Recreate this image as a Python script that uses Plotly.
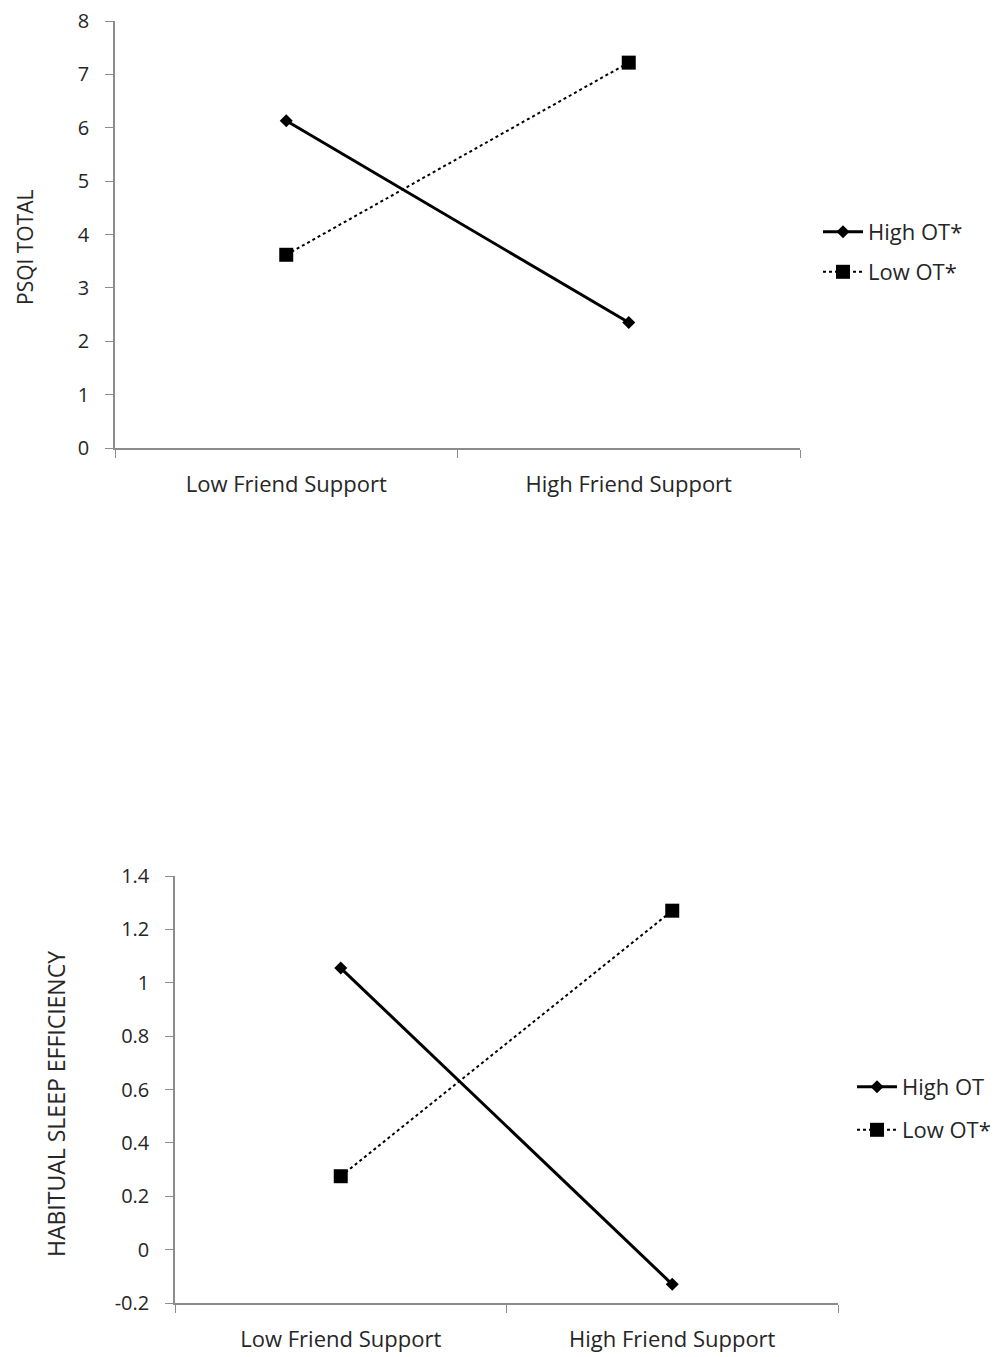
import plotly.graph_objects as go

categories = ["Low Friend Support", "High Friend Support"]

psqi_high_ot = [6.13, 2.35]
psqi_low_ot = [3.62, 7.22]

hse_high_ot = [1.055, -0.13]
hse_low_ot = [0.275, 1.27]

top_ticks = [0, 1, 2, 3, 4, 5, 6, 7, 8]
bottom_ticks = [-0.2, 0, 0.2, 0.4, 0.6, 0.8, 1, 1.2, 1.4]
bottom_ticktext = ["-0.2", "0", "0.2", "0.4", "0.6", "0.8", "1", "1.2", "1.4"]

FONT = "Open Sans"
TXT = "#262626"
AX = "#8c8c8c"

# page body has an 8px margin; figure fits inside the remaining window
OFF = 8
W, H = 1003 - OFF, 1357 - OFF
def px(x): return (x - OFF) / W
def py(y): return 1 - (y - OFF) / H

fig = go.Figure()

fig.add_trace(go.Scatter(x=categories, y=psqi_high_ot, name="High OT*", mode="lines+markers",
                         line=dict(color="black", width=3), marker=dict(symbol="diamond", size=10, color="black"),
                         xaxis="x", yaxis="y", legend="legend2"))
fig.add_trace(go.Scatter(x=categories, y=psqi_low_ot, name="Low OT*", mode="lines+markers",
                         line=dict(color="black", width=2, dash="dot"), marker=dict(symbol="square", size=14, color="black"),
                         xaxis="x", yaxis="y", legend="legend3"))
fig.add_trace(go.Scatter(x=categories, y=hse_high_ot, name="High OT", mode="lines+markers",
                         line=dict(color="black", width=3), marker=dict(symbol="diamond", size=10, color="black"),
                         xaxis="x2", yaxis="y2", legend="legend4"))
fig.add_trace(go.Scatter(x=categories, y=hse_low_ot, name="Low OT*", mode="lines+markers",
                         line=dict(color="black", width=2, dash="dot"), marker=dict(symbol="square", size=14, color="black"),
                         xaxis="x2", yaxis="y2", legend="legend5"))

xcommon = dict(type="category", range=[-0.5, 1.5], tickson="boundaries", ticks="outside", ticklen=8,
               tickcolor=AX, showline=True, linecolor=AX, linewidth=1.5, showgrid=False, zeroline=False,
               tickfont=dict(family=FONT, size=22, color=TXT), fixedrange=True, automargin=False,
               ticklabelstandoff=16, ticklabeloverflow="allow")
ycommon = dict(ticks="outside", ticklen=8, tickcolor=AX, showline=True, linecolor=AX, linewidth=1.5,
               showgrid=False, zeroline=False, tickfont=dict(family=FONT, size=20, color=TXT), fixedrange=True,
               automargin=False, ticklabelstandoff=12, ticklabeloverflow="allow")

def leg(x, y):
    return dict(x=px(x), y=py(y), xanchor="left", yanchor="middle", bgcolor="rgba(0,0,0,0)",
                font=dict(family=FONT, size=22, color=TXT), itemwidth=40, visible=True)

fig.update_layout(
    width=W, height=H, margin=dict(l=0, r=0, t=0, b=0),
    paper_bgcolor="white", plot_bgcolor="white",
    font=dict(family=FONT, color=TXT),
    showlegend=True,
    xaxis=dict(domain=[px(115), px(800)], anchor="y", **xcommon),
    yaxis=dict(domain=[py(448), py(21)], anchor="x", range=[0, 8], tickvals=top_ticks, **ycommon),
    xaxis2=dict(domain=[px(175), px(838)], anchor="y2", **xcommon),
    yaxis2=dict(domain=[py(1303), py(876)], anchor="x2", range=[-0.2, 1.4], tickvals=bottom_ticks,
                ticktext=bottom_ticktext, **ycommon),
    legend2=leg(818, 232),
    legend3=leg(818, 272),
    legend4=leg(852, 1087),
    legend5=leg(852, 1130),
    annotations=[
        dict(text="PSQI TOTAL", x=px(25), y=py(247), xref="paper", yref="paper", textangle=-90,
             xanchor="center", yanchor="middle",
             showarrow=False, font=dict(family=FONT, size=21, color=TXT)),
        dict(text="HABITUAL SLEEP EFFICIENCY", x=px(56), y=py(1104), xref="paper", yref="paper", textangle=-90,
             xanchor="center", yanchor="middle",
             showarrow=False, font=dict(family=FONT, size=23, color=TXT)),
    ],
)

fig.write_html("out.html")
